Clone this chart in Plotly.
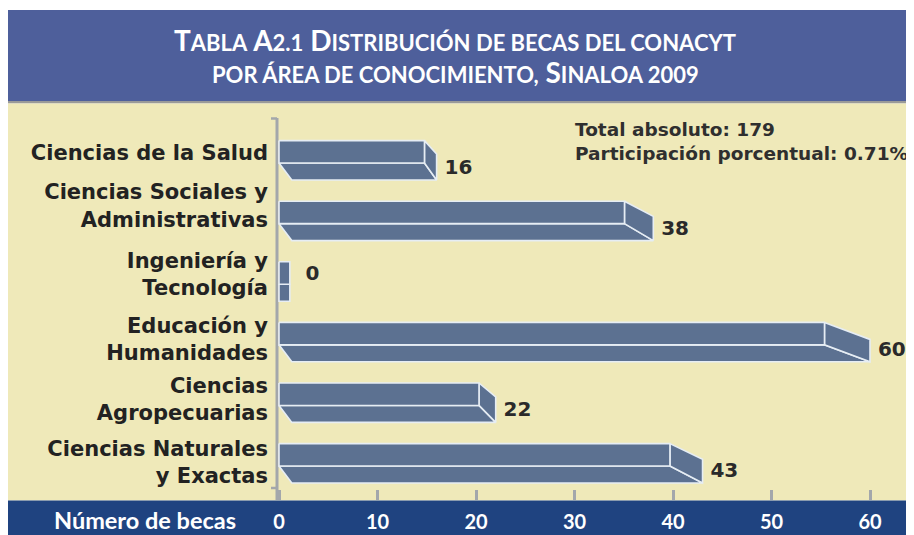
import plotly.graph_objects as go

# ---------------- data ----------------
categories = [
    "Ciencias de la Salud",
    "Ciencias Sociales y<br>Administrativas",
    "Ingeniería y<br>Tecnología",
    "Educación y<br>Humanidades",
    "Ciencias<br>Agropecuarias",
    "Ciencias Naturales<br>y Exactas",
]
becas = [16, 38, 0, 60, 22, 43]
x_ticks = [0, 10, 20, 30, 40, 50, 60]
total_absoluto = 179
participacion = 0.71

# ---------------- geometry / style ----------------
OFF = 8                              # page body margin
W, H = 914 - OFF, 535 - OFF
ML, MR, MT, MB = 277 - OFF, 0, 104 - OFF, 535 - 500
PW, PH = W - ML - MR, H - MT - MB
PX_UNIT = 9.85                      # pixels per beca
X0 = -2 / PX_UNIT
X1 = X0 + PW / PX_UNIT
ROW = 60.6                          # pixels per category
C0 = 160                            # page-pixel centre of first category
Y_TOP = (104 - C0) / ROW
Y_BOT = (500 - C0) / ROW
LABEL_SHIFT_PX = [-7, -15, -7, -3, -3, -1]   # label offset from bar centre


def xp(px):
    return (px - OFF - ML) / PW


def yp(py):
    return (500 - py) / PH


BAR = "#5c7191"
EDGE = "#e6edf4"
AXC = "#a3a7ab"
STUB = 1.1
A = 0.923
B_OFF = 1.3
T_TOP, T_MID, T_BOT = -0.32, 0.05, 0.33

fig = go.Figure()

for i, v in enumerate(becas):
    if v == 0:
        faces = [
            ([0, STUB, STUB, 0, 0], [i + T_MID, i + T_MID, i + T_BOT, i + T_BOT, i + T_MID]),
            ([0, STUB, STUB, 0, 0], [i + T_TOP, i + T_TOP, i + T_MID, i + T_MID, i + T_TOP]),
        ]
    else:
        d = 0.2 + 0.08 * v / 60
        faces = [
            ([0, A * v, v, B_OFF, 0],
             [i + T_MID, i + T_MID, i + T_BOT, i + T_BOT, i + T_MID]),
            ([A * v, v, v, A * v, A * v],
             [i + T_TOP, i + T_TOP + d, i + T_BOT, i + T_MID, i + T_TOP]),
            ([0, A * v, A * v, 0, 0],
             [i + T_TOP, i + T_TOP, i + T_MID, i + T_MID, i + T_TOP]),
        ]
    for fx, fy in faces:
        fig.add_trace(go.Scatter(
            x=fx, y=fy, mode="lines", fill="toself", fillcolor=BAR,
            line=dict(color=EDGE, width=1.6), hoverinfo="skip", showlegend=False,
        ))

# value labels
fig.add_trace(go.Scatter(
    x=[(v if v > 0 else STUB + 0.8) + 0.8 for v in becas],
    y=[i + 0.15 if v > 0 else i - 0.1 for i, v in enumerate(becas)],
    mode="text", text=[str(v) for v in becas], textposition="middle right",
    textfont=dict(family="DejaVu Sans", size=20, color="#2a2a2a", weight="bold"),
    hoverinfo="skip", showlegend=False, cliponaxis=False,
))

shapes = [
    dict(type="rect", xref="paper", yref="paper", x0=xp(8), x1=xp(914), y0=yp(101), y1=yp(10),
         fillcolor="#4e5f9b", line=dict(width=0), layer="below"),
    dict(type="rect", xref="paper", yref="paper", x0=xp(8), x1=xp(914), y0=yp(103.5), y1=yp(101),
         fillcolor="#9a9a98", line=dict(width=0), layer="below"),
    dict(type="rect", xref="paper", yref="paper", x0=xp(8), x1=xp(914), y0=yp(500.5), y1=yp(103.5),
         fillcolor="#efe9b9", line=dict(width=0), layer="below"),
    dict(type="rect", xref="paper", yref="paper", x0=xp(8), x1=xp(914), y0=yp(540), y1=yp(500.5),
         fillcolor="#1f4380", line=dict(width=0), layer="below"),
    dict(type="line", xref="paper", yref="paper", x0=xp(277), x1=xp(277), y0=yp(500), y1=yp(118),
         line=dict(color=AXC, width=3), layer="below"),
    dict(type="line", xref="paper", yref="paper", x0=xp(271), x1=xp(277), y0=yp(118.5), y1=yp(118.5),
         line=dict(color=AXC, width=2.5), layer="below"),
    dict(type="line", xref="paper", yref="paper", x0=xp(271), x1=xp(277), y0=yp(488), y1=yp(488),
         line=dict(color=AXC, width=2.5), layer="below"),
]

SC = 22  # small caps size
BC = 28  # capital size


def sc(s):
    return f"<span style='font-size:{SC}px'>{s}</span>"


title1 = ("T" + sc("ABLA") + " A" + sc("2.1") + " D" + sc("ISTRIBUCIÓN DE BECAS DEL CONACYT"))
title2 = (sc("POR ÁREA DE CONOCIMIENTO,") + " S" + sc("INALOA 2009"))

annotations = [
    dict(text=title1, xref="paper", yref="paper", x=xp(455), y=yp(40), showarrow=False,
         xanchor="center", yanchor="middle",
         font=dict(family="Lato", size=BC, color="white", weight="bold")),
    dict(text=title2, xref="paper", yref="paper", x=xp(455), y=yp(72), showarrow=False,
         xanchor="center", yanchor="middle",
         font=dict(family="Lato", size=BC, color="white", weight="bold")),
    dict(text=f"Total absoluto: {total_absoluto}<br>Participación porcentual: {participacion}%",
         xref="paper", yref="paper", x=xp(573), y=yp(141), showarrow=False,
         xanchor="left", yanchor="middle", align="left",
         font=dict(family="DejaVu Sans", size=18.5, color="#2f2f2f", weight="bold")),
    dict(text="Número de becas", xref="paper", yref="paper", x=xp(238), y=yp(520), showarrow=False,
         xanchor="right", yanchor="middle",
         font=dict(family="Lato", size=23.5, color="white", weight="bold")),
]

fig.update_layout(
    width=W, height=H,
    margin=dict(l=ML, r=MR, t=MT, b=MB, pad=0),
    paper_bgcolor="white", plot_bgcolor="rgba(0,0,0,0)",
    shapes=shapes, annotations=annotations,
    xaxis=dict(range=[X0, X1], tickvals=x_ticks, ticks="inside", ticklen=10, tickwidth=2.5,
               tickcolor=AXC, showgrid=False, zeroline=False, showline=False,
               ticklabelstandoff=8,
               tickfont=dict(family="Lato", size=20, color="white", weight="bold")),
    yaxis=dict(range=[Y_BOT, Y_TOP],
               tickvals=[i + s / ROW for i, s in enumerate(LABEL_SHIFT_PX)],
               ticktext=categories, ticks="", showgrid=False, zeroline=False, showline=False,
               ticklabelstandoff=8,
               tickfont=dict(family="DejaVu Sans", size=21, color="#222222", weight="bold")),
)

fig.write_html("out.html")
